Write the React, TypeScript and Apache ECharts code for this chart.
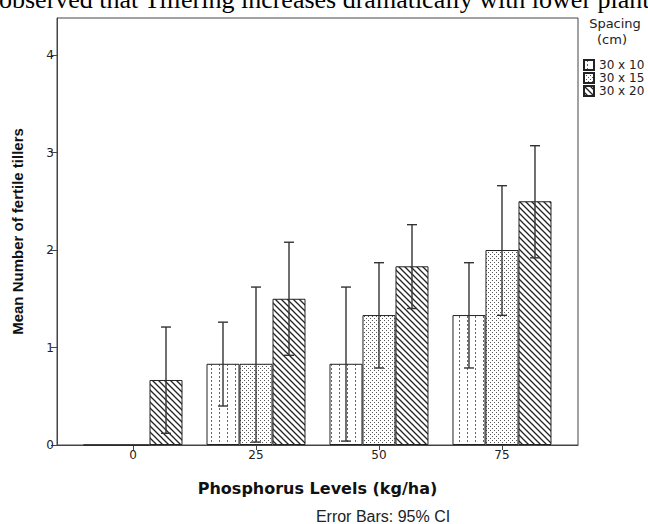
import React, { useEffect, useRef } from "react";
import * as echarts from "echarts";

const categories = ["0", "25", "50", "75"];
const seriesNames = ["30 x 10", "30 x 15", "30 x 20"];
const means = [
  [0, 0.833, 0.833, 1.333],
  [0, 0.833, 1.333, 2.0],
  [0.667, 1.5, 1.833, 2.5],
];
const ciLow = [
  [null, 0.4, 0.04, 0.79],
  [null, 0.03, 0.79, 1.33],
  [0.12, 0.92, 1.4, 1.92],
];
const ciHigh = [
  [null, 1.26, 1.62, 1.87],
  [null, 1.62, 1.87, 2.66],
  [1.21, 2.08, 2.26, 3.07],
];
const yTicks = [0, 1, 2, 3, 4];

function makePattern(kind: number) {
  const c = document.createElement("canvas");
  let w = 8, h = 4;
  if (kind === 1) { w = 4; h = 4; }
  if (kind === 2) { w = 6; h = 6; }
  c.width = w; c.height = h;
  const ctx = c.getContext("2d")!;
  ctx.fillStyle = "#ffffff";
  ctx.fillRect(0, 0, w, h);
  if (kind === 0) {
    ctx.fillStyle = "#666666";
    ctx.fillRect(3, 0, 1, 2);
  } else if (kind === 1) {
    ctx.fillStyle = "#555555";
    ctx.fillRect(0, 0, 1, 1);
    ctx.fillRect(2, 2, 1, 1);
  } else {
    ctx.strokeStyle = "#222222";
    ctx.lineWidth = 1.3;
    ctx.beginPath();
    ctx.moveTo(-1, -1); ctx.lineTo(w + 1, h + 1);
    ctx.moveTo(-1, h - 1); ctx.lineTo(1, h + 1);
    ctx.moveTo(w - 1, -1); ctx.lineTo(w + 1, 1);
    ctx.stroke();
  }
  return { image: c.toDataURL(), repeat: "repeat", imageWidth: w, imageHeight: h };
}

export default function App() {
  const ref = useRef<HTMLDivElement>(null);
  useEffect(() => {
    document.body.style.margin = "0";
    const chart = echarts.init(ref.current!, null, { renderer: "svg" });
    const barW = 33;
    const font = "DejaVu Sans";
    const series: any[] = [];
    seriesNames.forEach((name, i) => {
      series.push({
        type: "bar",
        name,
        barWidth: barW,
        barGap: "0%",
        data: means[i].map((v, k) => [k, v]),
        itemStyle: { color: makePattern(i), borderColor: "#222", borderWidth: 1 },
        emphasis: { disabled: true },
      });
    });
    seriesNames.forEach((name, i) => {
      const data: any[] = [];
      means[i].forEach((_, k) => {
        if (ciLow[i][k] != null) data.push([k, ciLow[i][k], ciHigh[i][k]]);
      });
      series.push({
        type: "custom",
        name: name + " CI",
        z: 5,
        data,
        encode: { x: 0, y: [1, 2] },
        renderItem: (params: any, api: any) => {
          const k = api.value(0);
          const lo = api.coord([k, api.value(1)]);
          const hi = api.coord([k, api.value(2)]);
          const x = lo[0] + (i - 1) * barW;
          const cap = 5;
          const style = { stroke: "#333", lineWidth: 1.4 };
          return {
            type: "group",
            children: [
              { type: "line", shape: { x1: x, y1: lo[1], x2: x, y2: hi[1] }, style },
              { type: "line", shape: { x1: x - cap, y1: lo[1], x2: x + cap, y2: lo[1] }, style },
              { type: "line", shape: { x1: x - cap, y1: hi[1], x2: x + cap, y2: hi[1] }, style },
            ],
          };
        },
      });
    });
    chart.setOption({
      animation: false,
      grid: { left: 57, right: 70, top: 18, bottom: 79, show: true, borderColor: "#444", borderWidth: 1 },
      legend: {
        data: seriesNames,
        orient: "vertical",
        left: 578,
        top: 54,
        itemWidth: 10,
        itemHeight: 10,
        itemGap: 1,
        icon: "rect",
        selectedMode: false,
        textStyle: { fontFamily: font, fontSize: 12, lineHeight: 10, color: "#222" },
      },
      xAxis: {
        type: "value",
        min: -0.618,
        max: 3.618,
        splitLine: { show: false },
        axisLine: { show: true, onZero: false, lineStyle: { color: "#444" } },
        axisTick: { show: true, length: 5, customValues: [0, 1, 2, 3], lineStyle: { color: "#444" } },
        axisLabel: {
          customValues: [0, 1, 2, 3],
          formatter: (v: number) => categories[Math.round(v)],
          fontFamily: font,
          fontSize: 12,
          color: "#222",
          margin: 4,
        },
        name: "Phosphorus Levels (kg/ha)",
        nameLocation: "middle",
        nameGap: 35,
        nameTextStyle: { fontFamily: font, fontSize: 16, fontWeight: "bold", color: "#111" },
      },
      yAxis: {
        type: "value",
        min: 0,
        max: 4.38,
        splitLine: { show: false },
        axisLine: { show: true, onZero: false, lineStyle: { color: "#444" } },
        axisTick: { show: true, length: 6, customValues: yTicks, lineStyle: { color: "#444" } },
        axisLabel: { customValues: yTicks, fontFamily: font, fontSize: 12, color: "#222", margin: 3 },
        name: "Mean Number of fertile tillers",
        nameLocation: "middle",
        nameGap: 32,
        nameTextStyle: { fontFamily: "Liberation Sans", fontSize: 15, fontWeight: "bold", color: "#111" },
      },
      graphic: [
        {
          type: "text",
          x: 615,
          y: 17,
          style: {
            text: "Spacing",
            fontFamily: font,
            fontSize: 13,
            fill: "#222",
            align: "center",
            verticalAlign: "top",
          },
        },
        {
          type: "text",
          x: 612,
          y: 33,
          style: {
            text: "(cm)",
            fontFamily: font,
            fontSize: 13,
            fill: "#222",
            align: "center",
            verticalAlign: "top",
          },
        },
        {
          type: "text",
          x: 383,
          y: 516,
          style: {
            text: "Error Bars: 95% CI",
            fontFamily: "Liberation Sans",
            fontSize: 16,
            fill: "#222",
            align: "center",
            verticalAlign: "middle",
          },
        },
        {
          type: "text",
          x: -1,
          y: 12,
          style: {
            text: "observed that Tillering increases dramatically with lower plant",
            fontFamily: "Liberation Serif",
            fontSize: 26,
            fill: "#000",
            align: "left",
            verticalAlign: "bottom",
          },
        },
      ],
      series,
    });
    return () => chart.dispose();
  }, []);
  return <div ref={ref} style={{ width: 648, height: 524 }} />;
}
